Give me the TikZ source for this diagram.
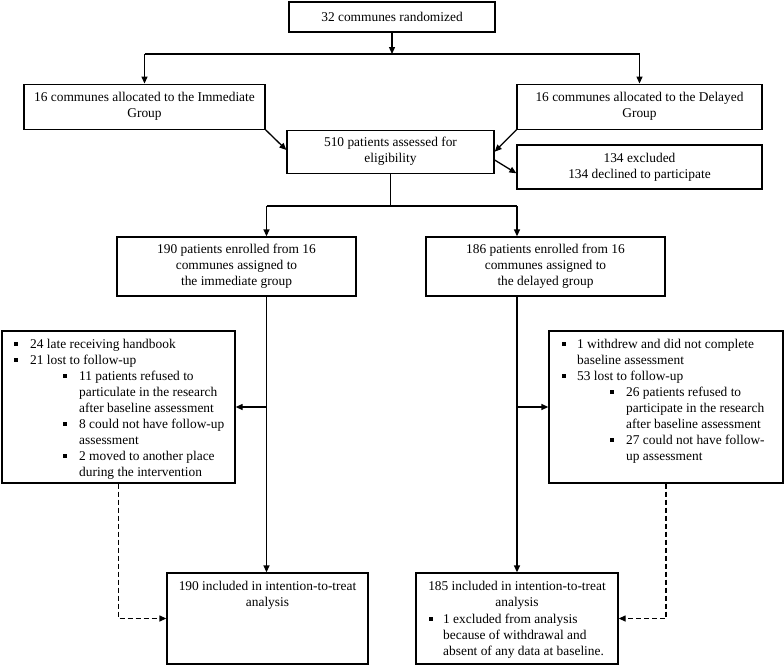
\documentclass[tikz,border=0pt]{standalone}
\usepackage{fontspec}
\setmainfont{Liberation Serif}
\usetikzlibrary{arrows.meta}
\newcommand{\sqbul}{\raisebox{2.6pt}{\rule{4pt}{4pt}}}
\newcommand{\bulA}{\makebox[16pt][l]{\sqbul}}
\newcommand{\bulB}{\makebox[15pt][l]{\sqbul}}
\newcommand{\bulC}{\makebox[14pt][l]{\sqbul}}
\begin{document}
\begin{tikzpicture}[x=1pt,y=-1pt,
  box/.style={draw, line width=1.3pt, inner sep=0pt},
  txt/.style={font=\fontsize{13.4}{16}\selectfont, inner sep=0pt, align=left},
  ctxt/.style={font=\fontsize{13.4}{16}\selectfont, align=center},
  arr/.style={-{Triangle[length=7pt,width=6pt]}, line width=1.3pt},
  ln/.style={line width=1.3pt},
  dsh/.style={arr, dash pattern=on 5pt off 3pt}]
\useasboundingbox (0,0) rectangle (784,667);

% boxes
\node[box, ctxt, minimum width=206pt, minimum height=30pt] (top) at (392,17) {32 communes randomized};
\node[box, ctxt, minimum width=241pt, minimum height=45pt] (imm) at (144.5,106.7) {16 communes allocated to the Immediate\\Group};
\node[box, ctxt, minimum width=245pt, minimum height=45pt] (del) at (639.5,106.7) {16 communes allocated to the Delayed\\Group};
\node[box, ctxt, minimum width=207pt, minimum height=43pt] (elig) at (390.5,151.7) {510 patients assessed for\\eligibility};
\node[box, ctxt, minimum width=245pt, minimum height=44pt] (excl) at (639.5,167) {134 excluded\\134 declined to participate};
\node[box, ctxt, minimum width=239pt, minimum height=59pt] (enrL) at (236.5,266.5) {190 patients enrolled from 16\\communes assigned to\\the immediate group};
\node[box, ctxt, minimum width=239pt, minimum height=59pt] (enrR) at (545.5,266.5) {186 patients enrolled from 16\\communes assigned to\\the delayed group};
\node[box, minimum width=233pt, minimum height=152pt] (lossL) at (118.5,407) {};
\node[box, minimum width=234pt, minimum height=152pt] (lossR) at (666,407) {};
\node[box, minimum width=201pt, minimum height=91pt] (itL) at (267.5,618.5) {};
\node[box, minimum width=202pt, minimum height=91pt] (itR) at (517,618.5) {};

% texts inside list boxes
\node[txt, anchor=north west] (lossLt) at (14,336.8) {\strut\bulA 24 late receiving handbook\\
\bulA 21 lost to follow-up\\
\hspace*{49pt}\bulA 11 patients refused to\\
\hspace*{65pt}particulate in the research\\
\hspace*{65pt}after baseline assessment\\
\hspace*{49pt}\bulA 8 could not have follow-up\\
\hspace*{65pt}assessment\\
\hspace*{49pt}\bulA 2 moved to another place\\
\hspace*{65pt}during the intervention};
\node[txt, anchor=north west] (lossRt) at (562,336.8) {\strut\bulB 1 withdrew and did not complete\\
\hspace*{15pt}baseline assessment\\
\bulB 53 lost to follow-up\\
\hspace*{48pt}\bulA 26 patients refused to\\
\hspace*{64pt}participate in the research\\
\hspace*{64pt}after baseline assessment\\
\hspace*{48pt}\bulA 27 could not have follow-\\
\hspace*{64pt}up assessment};
\node[txt, align=center, anchor=north] (itLt) at (267.5,578.8) {\strut 190 included in intention-to-treat\\analysis};
\node[txt, align=center, anchor=north] (itRt) at (517,578.8) {\strut 185 included in intention-to-treat\\analysis};
\node[txt, anchor=north west] (itRb) at (429,611.8) {\strut\bulC 1 excluded from analysis\\
\hspace*{14pt}because of withdrawal and\\
\hspace*{14pt}absent of any data at baseline.};

% connectors
\coordinate (j1) at (392,54);
\draw[arr] (top.south) -- (j1);
\draw[ln] (imm.north |- j1) -- (del.north |- j1);
\draw[arr] (imm.north |- j1) -- (imm.north);
\draw[arr] (del.north |- j1) -- (del.north);
\draw[arr] (imm.south east) -- ([yshift=1.7pt]elig.west);
\draw[arr] (del.south west) -- (elig.east);
\draw[arr] ([yshift=-8.3pt]elig.east) -- ([yshift=-6.3pt]excl.west);

\coordinate (j2) at (390.5,206);
\coordinate (jL) at (266.5,206);
\coordinate (jR) at (517,206);
\draw[ln] (elig.south) -- (j2);
\draw[ln] (jL) -- (jR);
\draw[arr] (jL) -- (jL |- enrL.north);
\draw[arr] (jR) -- (jR |- enrR.north);
\draw[arr] (jL |- enrL.south) -- (jL |- itL.north);
\draw[arr] (jR |- enrR.south) -- (jR |- itR.north);
\draw[arr] (jL |- lossL.east) -- (lossL.east);
\draw[arr] (jR |- lossR.west) -- (lossR.west);
\draw[dsh] (lossL.south) |- (itL.west);
\draw[dsh] (lossR.south) |- (itR.east);
\end{tikzpicture}
\end{document}
